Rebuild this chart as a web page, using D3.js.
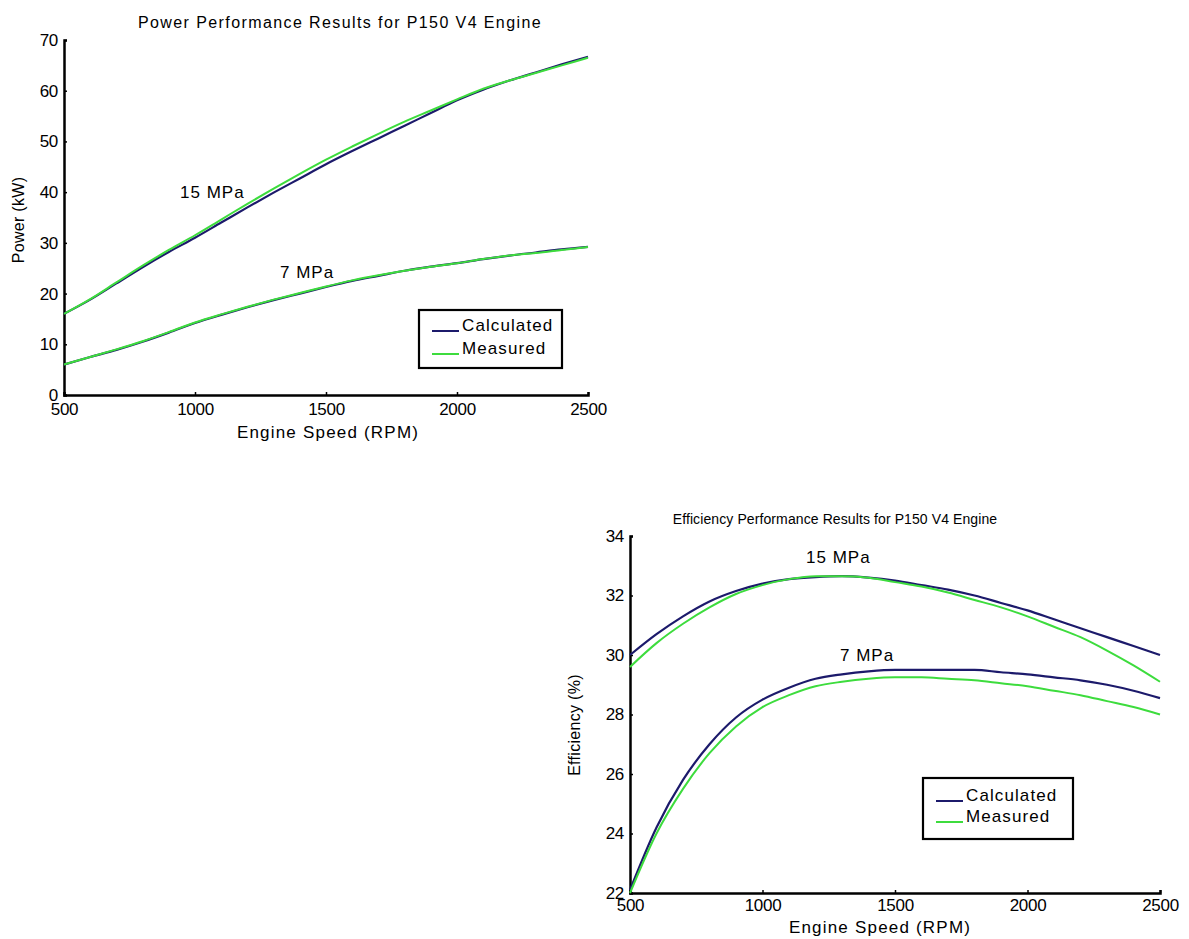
<!DOCTYPE html>
<html>
<head>
<meta charset="utf-8">
<script src="https://cdn.jsdelivr.net/npm/d3@7"></script>
<style>
  body { margin: 0; background: #fff; }
  svg { display: block; font-family: "Liberation Sans", Arial, sans-serif; }
</style>
</head>
<body>
<svg id="chart" width="1189" height="939"></svg>
<script>
// ----- Data -----
const rpm = [500, 600, 700, 800, 900, 1000, 1100, 1200, 1300, 1400, 1500, 1600, 1700, 1800, 1900, 2000, 2100, 2200, 2300, 2400, 2500];

// Power (kW)
const power15Calc = [16.0, 18.8, 22.0, 25.2, 28.2, 31.0, 34.0, 37.0, 39.9, 42.7, 45.5, 48.1, 50.6, 53.1, 55.6, 58.1, 60.2, 62.0, 63.6, 65.2, 66.7];
const power15Meas = [16.0, 18.9, 22.2, 25.5, 28.6, 31.5, 34.6, 37.7, 40.7, 43.6, 46.4, 49.0, 51.5, 53.9, 56.1, 58.3, 60.4, 62.0, 63.5, 65.0, 66.5];
const power7Calc  = [6.0, 7.5, 8.9, 10.5, 12.3, 14.2, 15.8, 17.3, 18.7, 20.0, 21.3, 22.5, 23.5, 24.5, 25.3, 26.0, 26.8, 27.5, 28.1, 28.7, 29.2];
const power7Meas  = [6.0, 7.5, 9.0, 10.6, 12.4, 14.3, 15.9, 17.4, 18.8, 20.1, 21.4, 22.6, 23.6, 24.5, 25.3, 26.0, 26.8, 27.5, 28.0, 28.6, 29.2];

// Efficiency (%)
const eff15Calc = [30.0, 30.7, 31.3, 31.8, 32.15, 32.4, 32.55, 32.62, 32.65, 32.6, 32.5, 32.35, 32.2, 32.0, 31.75, 31.5, 31.2, 30.9, 30.6, 30.3, 30.0];
const eff15Meas = [29.6, 30.4, 31.05, 31.6, 32.05, 32.35, 32.55, 32.65, 32.65, 32.6, 32.45, 32.3, 32.1, 31.85, 31.6, 31.3, 30.95, 30.6, 30.15, 29.65, 29.1];
const eff7Calc  = [22.1, 24.2, 25.8, 27.0, 27.9, 28.5, 28.9, 29.2, 29.35, 29.45, 29.5, 29.5, 29.5, 29.5, 29.42, 29.35, 29.25, 29.15, 29.0, 28.8, 28.55];
const eff7Meas  = [22.0, 24.0, 25.5, 26.7, 27.6, 28.25, 28.65, 28.95, 29.1, 29.2, 29.25, 29.25, 29.2, 29.15, 29.05, 28.95, 28.8, 28.65, 28.45, 28.25, 28.0];

const xTicks = [500, 1000, 1500, 2000, 2500];
const powerTicks = [0, 10, 20, 30, 40, 50, 60, 70];
const effTicks = [22, 24, 26, 28, 30, 32, 34];
const legendLabels = ["Calculated", "Measured"];
const colCalc = "#1c1a6b";
const colMeas = "#3ddc3d";

const svg = d3.select("#chart");

function drawChart(cfg) {
    const g = svg.append("g");
    const x = d3.scaleLinear().domain([500, 2500]).range([cfg.left, cfg.right]);
    const y = d3.scaleLinear().domain(cfg.yDomain).range([cfg.bottom, cfg.top]);

    // axes (ticks pointing inward, only left + bottom spine)
    const xAxis = d3.axisBottom(x).tickValues(xTicks).tickSize(-3).tickFormat(d3.format("d"));
    const yAxis = d3.axisLeft(y).tickValues(cfg.yTicks).tickSize(-3).tickPadding(6).tickFormat(d3.format("d"));
    const gx = g.append("g").attr("transform", "translate(0," + cfg.bottom + ")").call(xAxis);
    const gy = g.append("g").attr("transform", "translate(" + cfg.left + ",0)").call(yAxis);
    [gx, gy].forEach(a => {
        a.select(".domain").attr("stroke", "#000").attr("stroke-width", 2.5);
        a.selectAll(".tick line").attr("stroke", "#000").attr("stroke-width", 1.5);
        a.selectAll(".tick text").attr("fill", "#000").style("font-size", "17px").style("letter-spacing", "-0.3px");
    });
    gx.selectAll(".tick text").attr("y", cfg.xTickY).attr("dy", "0.71em");

    // lines
    const line = d3.line().x((d, i) => x(rpm[i])).y(d => y(d)).curve(d3.curveMonotoneX);
    cfg.series.forEach(s => {
        g.append("path").datum(s.calc).attr("d", line)
            .attr("fill", "none").attr("stroke", colCalc).attr("stroke-width", 2.2);
        g.append("path").datum(s.meas).attr("d", line)
            .attr("fill", "none").attr("stroke", colMeas).attr("stroke-width", 2);
    });

    // annotations
    cfg.notes.forEach(n => {
        g.append("text").attr("x", n.x).attr("y", n.y).text(n.text)
            .style("font-size", "17px").style("letter-spacing", "1px").attr("fill", "#000");
    });

    // title & axis labels
    g.append("text").attr("x", cfg.titleX).attr("y", cfg.top - 12)
        .attr("text-anchor", "middle").style("font-size", cfg.titleSize + "px")
        .style("letter-spacing", cfg.titleSpacing + "px")
        .text(cfg.title);
    g.append("text").attr("x", cfg.xLabelX).attr("y", cfg.bottom + cfg.xLabelDy)
        .attr("text-anchor", "middle").style("font-size", "17px").style("letter-spacing", "1.2px")
        .text("Engine Speed (RPM)");
    g.append("text")
        .attr("transform", "translate(" + cfg.yLabel.x + "," + cfg.yLabel.y + ") rotate(-90)")
        .attr("text-anchor", "middle").style("font-size", "16px").style("letter-spacing", "0.3px")
        .text(cfg.yLabel.text);

    // legend
    const lg = g.append("g").attr("transform", "translate(" + cfg.legend.x + "," + cfg.legend.y + ")");
    lg.append("rect").attr("width", cfg.legend.w).attr("height", cfg.legend.h)
        .attr("fill", "#fff").attr("stroke", "#000").attr("stroke-width", 2.2);
    legendLabels.forEach((lab, i) => {
        const ly = cfg.legend.rows[i];
        lg.append("line").attr("x1", 13).attr("x2", 40).attr("y1", ly).attr("y2", ly)
            .attr("stroke", i === 0 ? colCalc : colMeas).attr("stroke-width", 2);
        lg.append("text").attr("x", 43).attr("y", ly).text(lab)
            .style("font-size", "17px").style("letter-spacing", "1.1px");
    });
}

drawChart({
    left: 64, right: 588, top: 40, bottom: 395,
    yDomain: [0, 70], yTicks: powerTicks,
    title: "Power Performance Results for P150 V4 Engine", titleX: 340, titleSize: 16, titleSpacing: 1.4,
    xLabelX: 328, xLabelDy: 43, xTickY: 8,
    yLabel: {text: "Power (kW)", x: 24, y: 220},
    series: [{calc: power15Calc, meas: power15Meas}, {calc: power7Calc, meas: power7Meas}],
    notes: [{x: 180, y: 198, text: "15 MPa"}, {x: 280, y: 278, text: "7 MPa"}],
    legend: {x: 419, y: 310, w: 143, h: 58, rows: [21, 44]}
});

drawChart({
    left: 630, right: 1160, top: 536, bottom: 893,
    yDomain: [22, 34], yTicks: effTicks,
    title: "Efficiency Performance Results for P150 V4 Engine", titleX: 835, titleSize: 14, titleSpacing: 0.1,
    xLabelX: 880, xLabelDy: 40, xTickY: 6,
    yLabel: {text: "Efficiency (%)", x: 580, y: 725},
    series: [{calc: eff15Calc, meas: eff15Meas}, {calc: eff7Calc, meas: eff7Meas}],
    notes: [{x: 806, y: 563, text: "15 MPa"}, {x: 840, y: 661, text: "7 MPa"}],
    legend: {x: 923, y: 778, w: 150, h: 61, rows: [23, 44]}
});
</script>
</body>
</html>
